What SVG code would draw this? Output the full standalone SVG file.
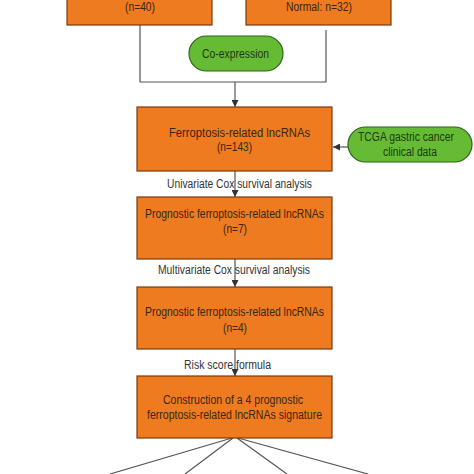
<svg xmlns="http://www.w3.org/2000/svg" width="474" height="474" viewBox="0 0 474 474">
<defs>
<style>
.box{fill:#EE7B1F;stroke:#7A3A12;stroke-width:1.2}
.pill{fill:#66BB35;stroke:#2C6418;stroke-width:1.2}
.t{font-family:"Liberation Sans",Arial,sans-serif;font-size:12.5px;fill:#3A2614;text-anchor:middle}
.tg{font-family:"Liberation Sans",Arial,sans-serif;font-size:12.5px;fill:#1E3A10;text-anchor:middle}
.lbl{font-family:"Liberation Sans",Arial,sans-serif;font-size:12.5px;fill:#333;text-anchor:middle}
.c{fill:none;stroke:#555;stroke-width:1.2}
</style>
<marker id="ah" viewBox="0 0 10 10" refX="10" refY="5" markerWidth="7" markerHeight="7" orient="auto" markerUnits="userSpaceOnUse">
<path d="M0,0 L10,5 L0,10 z" fill="#333"/>
</marker>
</defs>
<rect width="474" height="474" fill="#fff"/>
<g id="connectors">
<polyline class="c" points="140,25 140,82 326,82 326,30"/>
<line class="c" x1="235" y1="82" x2="235" y2="107" marker-end="url(#ah)"/>
<line class="c" x1="348" y1="147" x2="333" y2="147" marker-end="url(#ah)"/>
<line class="c" x1="235" y1="171" x2="235" y2="197" marker-end="url(#ah)"/>
<line class="c" x1="235" y1="259" x2="235" y2="287" marker-end="url(#ah)"/>
<line class="c" x1="235" y1="349" x2="235" y2="376" marker-end="url(#ah)"/>
<line class="c" x1="232" y1="438" x2="110" y2="474"/>
<line class="c" x1="233" y1="438" x2="185" y2="474"/>
<line class="c" x1="237" y1="438" x2="287" y2="474"/>
<line class="c" x1="238" y1="438" x2="368" y2="474"/>
</g>
<g id="node-tumor">
<rect class="box" x="67" y="-10" width="145" height="35"/>
<text class="t" x="140" y="10.5" textLength="30" lengthAdjust="spacingAndGlyphs">(n=40)</text>
</g>
<g id="node-normal">
<rect class="box" x="246" y="-10" width="145" height="35"/>
<text class="t" x="319" y="10.5" textLength="66" lengthAdjust="spacingAndGlyphs">Normal: n=32)</text>
</g>
<g id="node-coexpression">
<rect class="pill" x="189" y="36" width="94" height="35" rx="17.5"/>
<text class="tg" x="235.5" y="58" textLength="67" lengthAdjust="spacingAndGlyphs">Co-expression</text>
</g>
<g id="node-ferro">
<rect class="box" x="137" y="107" width="195" height="64"/>
<text class="t" x="239.5" y="137" textLength="141" lengthAdjust="spacingAndGlyphs">Ferroptosis-related lncRNAs</text>
<text class="t" x="234.5" y="151" textLength="35" lengthAdjust="spacingAndGlyphs">(n=143)</text>
</g>
<g id="node-tcga">
<rect class="pill" x="348" y="127" width="124" height="35" rx="17.5"/>
<text class="tg" x="406" y="141" textLength="96" lengthAdjust="spacingAndGlyphs">TCGA gastric cancer</text>
<text class="tg" x="410" y="156" textLength="54" lengthAdjust="spacingAndGlyphs">clinical data</text>
</g>
<text class="lbl" x="239.5" y="188" textLength="145" lengthAdjust="spacingAndGlyphs">Univariate Cox survival analysis</text>
<g id="node-prog7">
<rect class="box" x="137" y="197" width="195" height="62"/>
<text class="t" x="234.5" y="218" textLength="179" lengthAdjust="spacingAndGlyphs">Prognostic ferroptosis-related lncRNAs</text>
<text class="t" x="235" y="233" textLength="24" lengthAdjust="spacingAndGlyphs">(n=7)</text>
</g>
<text class="lbl" x="234" y="274" textLength="152" lengthAdjust="spacingAndGlyphs">Multivariate Cox survival analysis</text>
<g id="node-prog4">
<rect class="box" x="137" y="287" width="195" height="62"/>
<text class="t" x="234.5" y="316" textLength="179" lengthAdjust="spacingAndGlyphs">Prognostic ferroptosis-related lncRNAs</text>
<text class="t" x="235" y="332" textLength="24" lengthAdjust="spacingAndGlyphs">(n=4)</text>
</g>
<text class="lbl" x="227.5" y="369" textLength="87" lengthAdjust="spacingAndGlyphs">Risk score formula</text>
<g id="node-signature">
<rect class="box" x="137" y="376" width="195" height="62"/>
<text class="t" x="233" y="404" textLength="140" lengthAdjust="spacingAndGlyphs">Construction of a 4 prognostic</text>
<text class="t" x="234.5" y="419" textLength="175" lengthAdjust="spacingAndGlyphs">ferroptosis-related lncRNAs signature</text>
</g>
</svg>
